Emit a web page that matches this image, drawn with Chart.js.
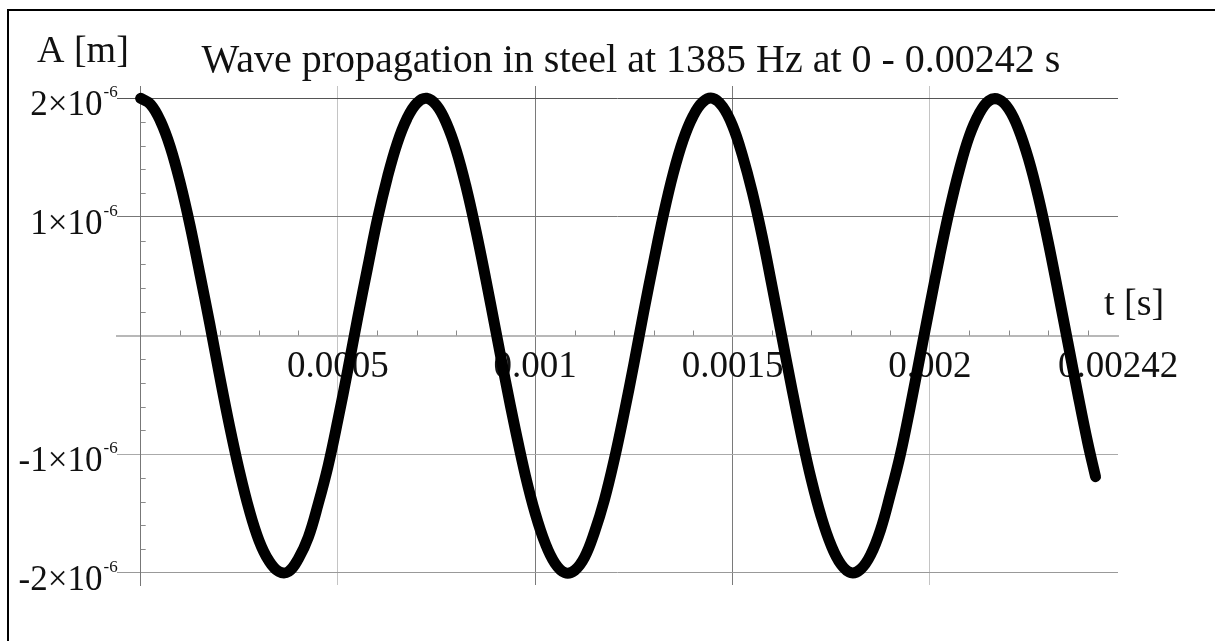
<!DOCTYPE html>
<html lang="en">
<head>
<meta charset="UTF-8">
<title>Wave propagation in steel</title>
<script src="https://cdn.jsdelivr.net/npm/chart.js@4.4.0/dist/chart.umd.min.js"></script>
<style>
    html, body { margin: 0; padding: 0; background: #fff; }
    canvas { display: block; }
</style>
</head>
<body>
<canvas id="wave" width="1215" height="641"></canvas>
<script>
    // time samples [s] and amplitude [10^-6 m]
    const timeS = [
        0, 0.000025, 0.00005, 0.000075, 0.0001, 0.000125, 0.00015, 0.000175,
        0.0002, 0.000225, 0.00025, 0.000275, 0.0003, 0.000325, 0.00035, 0.000375,
        0.0004, 0.000425, 0.00045, 0.000475, 0.0005, 0.000525, 0.00055, 0.000575,
        0.0006, 0.000625, 0.00065, 0.000675, 0.0007, 0.000725, 0.00075, 0.000775,
        0.0008, 0.000825, 0.00085, 0.000875, 0.0009, 0.000925, 0.00095, 0.000975,
        0.001, 0.001025, 0.00105, 0.001075, 0.0011, 0.001125, 0.00115, 0.001175,
        0.0012, 0.001225, 0.00125, 0.001275, 0.0013, 0.001325, 0.00135, 0.001375,
        0.0014, 0.001425, 0.00145, 0.001475, 0.0015, 0.001525, 0.00155, 0.001575,
        0.0016, 0.001625, 0.00165, 0.001675, 0.0017, 0.001725, 0.00175, 0.001775,
        0.0018, 0.001825, 0.00185, 0.001875, 0.0019, 0.001925, 0.00195, 0.001975,
        0.002, 0.002025, 0.00205, 0.002075, 0.0021, 0.002125, 0.00215, 0.002175,
        0.0022, 0.002225, 0.00225, 0.002275, 0.0023, 0.002325, 0.00235, 0.002375,
        0.0024, 0.00242
    ];
    const ampMicro = [
        2.00, 1.95, 1.81, 1.59, 1.29, 0.93, 0.52, 0.10,
        -0.34, -0.76, -1.14, -1.47, -1.73, -1.90, -1.99, -1.99,
        -1.88, -1.70, -1.42, -1.10, -0.71, -0.29, 0.15, 0.57,
        0.98, 1.33, 1.62, 1.83, 1.96, 2.00, 1.94, 1.79,
        1.56, 1.25, 0.88, 0.47, 0.04, -0.39, -0.80, -1.18,
        -1.50, -1.75, -1.92, -2.00, -1.98, -1.87, -1.66, -1.39,
        -1.05, -0.66, -0.24, 0.20, 0.62, 1.02, 1.37, 1.65,
        1.85, 1.97, 2.00, 1.93, 1.77, 1.52, 1.21, 0.84,
        0.42, -0.01, -0.44, -0.85, -1.22, -1.53, -1.77, -1.93,
        -2.00, -1.97, -1.85, -1.64, -1.34, -1.01, -0.61, -0.18,
        0.25, 0.67, 1.06, 1.40, 1.68, 1.87, 1.98, 1.99,
        1.91, 1.74, 1.49, 1.17, 0.79, 0.37, -0.06, -0.49,
        -0.90, -1.19
    ];

    // ticks
    const xTicks = [0.0005, 0.001, 0.0015, 0.002];
    const xTickLabels = ['0.0005', '0.001', '0.0015', '0.002'];
    const xEndLabel = '0.00242';
    const xMinor = [
        0.0001, 0.0002, 0.0003, 0.0004, 0.0006, 0.0007, 0.0008, 0.0009,
        0.0011, 0.0012, 0.0013, 0.0014, 0.0016, 0.0017, 0.0018, 0.0019,
        0.0021, 0.0022, 0.0023, 0.0024
    ];
    const yTicks = [-2, -1, 1, 2];
    const yTickLabels = ['-2×10', '-1×10', '1×10', '2×10'];
    const yExponent = '-6';
    const yMinor = [
        -1.8, -1.6, -1.4, -1.2, -0.8, -0.6, -0.4, -0.2,
        0.2, 0.4, 0.6, 0.8, 1.2, 1.4, 1.6, 1.8
    ];

    const X_MIN = -0.00006, X_MAX = 0.002477, Y_LIM = 2.104;
    const SERIF = '"Liberation Serif", "DejaVu Serif", serif';
    const vGridShade = ['#c4c4c4', '#7a7a7a', '#7a7a7a', '#c4c4c4', 'rgba(0,0,0,0)'];
    const hGridShade = {'-2': '#999', '-1': '#aaa', '1': '#777', '2': '#555'};

    // minor ticks, y labels with exponent, captions and the frame
    const decor = {
        id: 'decor',
        beforeDatasetsDraw(chart) {
            const {ctx, scales: {x, y}} = chart;
            const x0 = x.getPixelForValue(0), y0 = y.getPixelForValue(0);
            ctx.save();
            ctx.strokeStyle = '#8a8a8a';
            ctx.lineWidth = 1;
            ctx.beginPath();
            xMinor.forEach(v => {
                const px = Math.round(x.getPixelForValue(v)) + 0.5;
                ctx.moveTo(px, y0);
                ctx.lineTo(px, y0 - 5);
            });
            yMinor.forEach(v => {
                const py = Math.round(y.getPixelForValue(v)) + 0.5;
                ctx.moveTo(x0, py);
                ctx.lineTo(x0 + 5, py);
            });
            ctx.stroke();

            ctx.fillStyle = '#111';
            ctx.textAlign = 'right';
            ctx.textBaseline = 'alphabetic';
            yTicks.forEach((v, i) => {
                const py = y.getPixelForValue(v);
                const right = x0 - 23;
                ctx.font = '17px ' + SERIF;
                ctx.fillText(yExponent, right, py - 1);
                const w = ctx.measureText(yExponent).width;
                ctx.font = '35px ' + SERIF;
                ctx.fillText(yTickLabels[i], right - w - 1, py + 17);
            });
            ctx.restore();
        },
        afterDraw(chart) {
            const {ctx} = chart;
            ctx.save();
            ctx.fillStyle = '#111';
            ctx.textBaseline = 'alphabetic';
            ctx.font = '40px ' + SERIF;
            ctx.textAlign = 'center';
            ctx.fillText('Wave propagation in steel at 1385 Hz at 0 - 0.00242 s', 631, 72);
            ctx.font = '38px ' + SERIF;
            ctx.textAlign = 'left';
            ctx.fillText('A [m]', 37, 62);
            ctx.fillText('t [s]', 1104, 315);

            ctx.strokeStyle = '#000';
            ctx.lineWidth = 2;
            ctx.beginPath();
            ctx.moveTo(1215, 10);
            ctx.lineTo(8, 10);
            ctx.lineTo(8, 641);
            ctx.stroke();
            ctx.restore();
        }
    };

    new Chart(document.getElementById('wave'), {
        type: 'scatter',
        data: {
            datasets: [{
                data: timeS.map((t, i) => ({x: t, y: ampMicro[i]})),
                showLine: true,
                borderColor: '#000',
                borderWidth: 11,
                borderCapStyle: 'round',
                borderJoinStyle: 'round',
                tension: 0.4,
                pointRadius: 0,
                clip: false
            }]
        },
        options: {
            responsive: false,
            animation: false,
            devicePixelRatio: 1,
            layout: {padding: {left: 117, right: 97, top: 86, bottom: 56}},
            plugins: {legend: {display: false}, tooltip: {enabled: false}},
            scales: {
                x: {
                    type: 'linear',
                    min: X_MIN,
                    max: X_MAX,
                    position: {y: 0},
                    afterFit: s => { s.height = 0; },
                    afterBuildTicks: s => { s.ticks = xTicks.concat([X_MAX]).map(v => ({value: v})); },
                    ticks: {
                        callback: (v, i) => i < xTickLabels.length ? xTickLabels[i] : xEndLabel,
                        font: {family: SERIF, size: 37},
                        color: '#111',
                        padding: 10,
                        autoSkip: false,
                        maxRotation: 0
                    },
                    grid: {
                        color: c => vGridShade[c.index] || 'rgba(0,0,0,0)',
                        lineWidth: 1,
                        drawTicks: false
                    },
                    border: {color: '#b8b8b8', width: 2}
                },
                y: {
                    type: 'linear',
                    min: -Y_LIM,
                    max: Y_LIM,
                    position: {x: 0},
                    afterFit: s => { s.width = 0; },
                    afterBuildTicks: s => { s.ticks = yTicks.map(v => ({value: v})); },
                    ticks: {display: false},
                    grid: {
                        color: c => hGridShade[String(c.tick.value)] || '#888',
                        lineWidth: 1,
                        drawTicks: false
                    },
                    border: {color: '#777', width: 1}
                }
            }
        },
        plugins: [decor]
    });
</script>
</body>
</html>
